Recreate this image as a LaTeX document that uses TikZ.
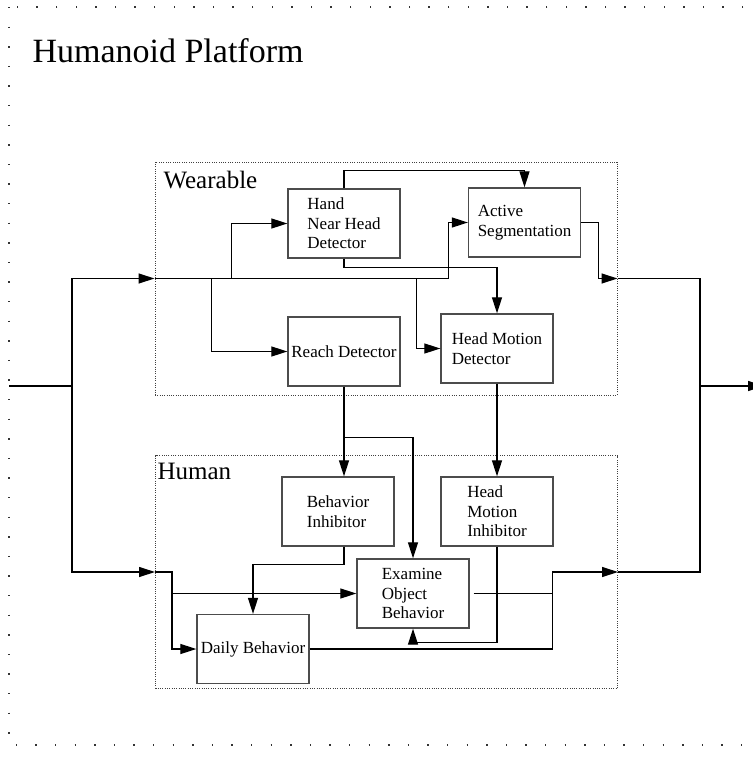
\documentclass[tikz,border=0pt]{standalone}
\usepackage{fontspec}
\setmainfont{Liberation Serif}
\usepackage{xcolor}
\usepackage{tikz}
\usetikzlibrary{arrows.meta}

\begin{document}
\begin{tikzpicture}[x=1pt, y=-1pt,
    block/.style={draw=black!70, line width=1.3pt, rectangle, minimum width=112pt, minimum height=69pt, inner sep=2pt, align=left, font=\fontsize{17}{19.5}\selectfont},
    group/.style={draw=black!75, line width=1pt, dash pattern=on 1pt off 1.3pt, rectangle, minimum width=462pt, minimum height=233pt},
    wire/.style={line width=1.2pt, black},
    arr/.style={wire, -{Triangle[length=16pt, width=10pt]}}]
    \useasboundingbox (0,0) rectangle (752,765);

    % Platform frame
    \draw[black!80, line width=1.4pt, dash pattern=on 1.4pt off 18.2pt] (9,7) rectangle (775,745);
    \node[anchor=base west, font=\fontsize{34}{40}\selectfont] (title) at (29,63) {Humanoid Platform};

    % Groups
    \node[group] (wearable) at (386,278.5) {};
    \node[group] (human) at (386.5,572) {};
    \node[anchor=base west, font=\fontsize{25}{30}\selectfont] (wearlbl) at (160,188) {Wearable};
    \node[anchor=base west, font=\fontsize{25}{30}\selectfont] (humanlbl) at (154,479) {Human};

    % Components
    \node[block] (hand) at (344,223.5) {Hand\\Near Head\\Detector};
    \node[block] (active) at (524.5,222.5) {Active\\Segmentation};
    \node[block] (reach) at (344,351.5) {Reach Detector};
    \node[block] (hmd) at (497,348.5) {Head Motion\\Detector};
    \node[block] (binh) at (338,511.5) {Behavior\\Inhibitor};
    \node[block] (hmi) at (497,511.5) {Head\\Motion\\Inhibitor};
    \node[block] (examine) at (413,593.5) {Examine\\Object\\Behavior};
    \node[block] (daily) at (253,649) {Daily Behavior};

    % Input and output
    \coordinate (in) at (9,386);
    \coordinate (split) at (72,386);
    \coordinate (merge) at (700,386);
    \coordinate (out) at (764,386);
    \draw[wire] (in) -- (split);
    \draw[arr] (split) |- (wearable.west);
    \draw[arr] (split) |- (human.west);
    \draw[wire] (wearable.east) -| (merge);
    \draw[wire] (human.east) -| (merge);
    \draw[arr] (merge) -- (out);

    % Wearable flow
    \draw[arr] (wearable.west) -- ++(294,0) |- (active.west);
    \draw[arr] ([xshift=77pt]wearable.west) |- (hand.west);
    \draw[arr] ([xshift=57pt]wearable.west) |- (reach.west);
    \draw[arr] ([xshift=262pt]wearable.west) |- (hmd.west);
    \draw[arr] (hand.north) -- ++(0,-18) -| (active.north);
    \draw[arr] (hand.south) -- ++(0,9) -| (hmd.north);
    \draw[arr] (active.east) -- ++(17,0) |- (wearable.east);

    % Wearable to human
    \draw[arr] (reach.south) -- (reach.south |- binh.north);
    \draw[arr] ([yshift=-51pt]reach.south) -| (examine.north);
    \draw[arr] (hmd.south) -- (hmi.north);

    % Human flow
    \draw[arr] (reach.south |- binh.south) -- ++(0,18) -| (daily.north);
    \draw[arr] (human.west) -- ++(17,0) |- (daily.west);
    \draw[arr] ([xshift=17pt]human.west) |- (examine.west);
    \draw[arr] (hmi.south) -- ++(0,96) -| (examine.south);
    \draw[arr] ([xshift=4pt]examine.east) -- ++(79,0) |- (human.east);
    \draw[wire] (daily.east) -- ++(243,0) -- ++(0,-55);
\end{tikzpicture}
\end{document}
